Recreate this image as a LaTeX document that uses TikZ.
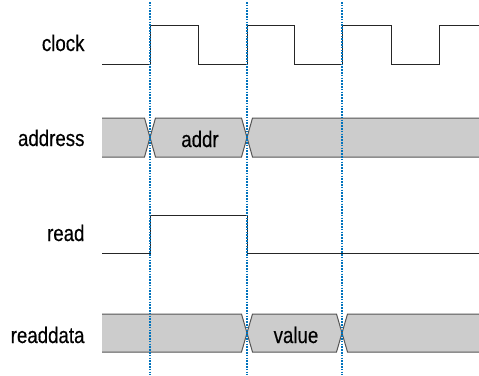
\documentclass[tikz,border=0pt]{standalone}
\usepackage{fontspec}
\setmainfont[FakeStretch=0.83,FakeBold=0.4]{Liberation Sans}
\definecolor{busgray}{RGB}{204,204,204}
\definecolor{edgegray}{RGB}{85,85,85}
\definecolor{tickblue}{RGB}{0,114,188}
\tikzset{
    wave/.style={line width=1pt, black!85},
    busfill/.style={fill=busgray},
    busedge/.style={line width=1pt, edgegray},
    tick/.style={tickblue, line width=1.5pt, dash pattern=on 1.6pt off 1.2pt},
    sig/.style={anchor=base east, font=\fontsize{22.5}{24}\selectfont},
    val/.style={anchor=base, font=\fontsize{22.5}{24}\selectfont}
}

\begin{document}
\begin{tikzpicture}[x=1pt, y=-1pt]
    \useasboundingbox (0,0) rectangle (479,375);

    % signal names
    \node[sig] (clk) at (88,51){clock};
    \node[sig] (adr) at (88,146){address};
    \node[sig] (rd) at (88,241){read};
    \node[sig] (rdd) at (88,343){readdata};

    % clock
    \draw[wave] (102,64) -- (150,64) -- (150,25) -- (198,25) -- (198,64)
        -- (247,64) -- (247,25) -- (294,25) -- (294,64)
        -- (342,64) -- (342,25) -- (391,25) -- (391,64)
        -- (439,64) -- (439,25) -- (479,25);

    % address bus
    \fill[busfill] (102,118) -- (144.5,118) -- (150,137.5) -- (144.5,157) -- (102,157) -- cycle;
    \fill[busfill] (155.5,118) -- (241.5,118) -- (247,137.5) -- (241.5,157) -- (155.5,157) -- (150,137.5) -- cycle;
    \fill[busfill] (252.5,118) -- (479,118) -- (479,157) -- (252.5,157) -- (247,137.5) -- cycle;
    \draw[busedge] (102,118) -- (144.5,118) -- (155.5,157) -- (241.5,157) -- (252.5,118) -- (479,118);
    \draw[busedge] (102,157) -- (144.5,157) -- (155.5,118) -- (241.5,118) -- (252.5,157) -- (479,157);
    \node[val] (addr) at (200,147){addr};

    % read
    \draw[wave] (102,253) -- (150,253) -- (150,215) -- (247,215) -- (247,253) -- (479,253);

    % readdata bus
    \fill[busfill] (102,314) -- (241.5,314) -- (247,333) -- (241.5,352) -- (102,352) -- cycle;
    \fill[busfill] (252.5,314) -- (336.5,314) -- (342,333) -- (336.5,352) -- (252.5,352) -- (247,333) -- cycle;
    \fill[busfill] (347.5,314) -- (479,314) -- (479,352) -- (347.5,352) -- (342,333) -- cycle;
    \draw[busedge] (102,314) -- (241.5,314) -- (252.5,352) -- (336.5,352) -- (347.5,314) -- (479,314);
    \draw[busedge] (102,352) -- (241.5,352) -- (252.5,314) -- (336.5,314) -- (347.5,352) -- (479,352);
    \node[val] (value) at (296,343){value};

    % clock edges
    \draw[tick] (150,2) -- (150,375);
    \draw[tick] (247,2) -- (247,375);
    \draw[tick] (342,2) -- (342,375);
\end{tikzpicture}
\end{document}
